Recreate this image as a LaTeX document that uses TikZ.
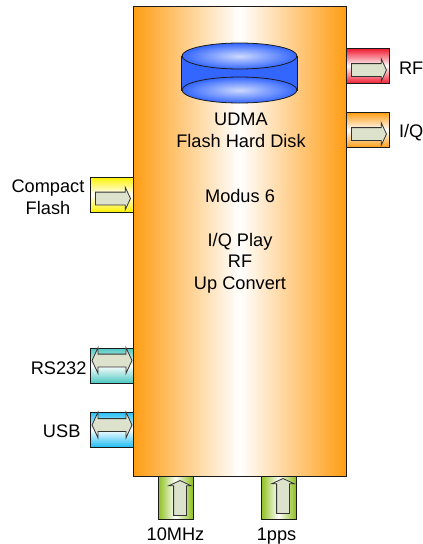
\documentclass[tikz,border=0pt]{standalone}
\usepackage{fontspec}
\setmainfont{Liberation Sans}
\usetikzlibrary{positioning, shapes.geometric, shapes.arrows}
\definecolor{darkline}{HTML}{1A1A1A}
\definecolor{mainorange}{HTML}{FF9D14}
\definecolor{portred}{HTML}{F01A30}
\definecolor{portorange}{HTML}{FF9D14}
\definecolor{portyellow}{HTML}{FFF200}
\definecolor{portteal}{HTML}{4CC7C0}
\definecolor{portblue}{HTML}{1FBDF5}
\definecolor{portgreen}{HTML}{8CBF1A}
\definecolor{diskblue}{HTML}{3366FF}
\definecolor{arrowfill}{HTML}{DDE2CC}
\definecolor{arrowline}{HTML}{333333}

\begin{document}
\begin{tikzpicture}[
    x=1pt, y=-1pt,
    textfont/.style={
        font=\fontsize{18.2}{21.7}\selectfont, text=black, align=center, inner sep=0pt
    },
    mainbox/.style={
        draw=darkline, thick, minimum width=213pt, minimum height=470pt,
        left color=mainorange, right color=mainorange, middle color=white
    },
    portbox/.style={
        draw=darkline, thick, minimum width=43pt, minimum height=35pt
    },
    portboxv/.style={
        draw=darkline, thick, minimum width=35pt, minimum height=43pt,
        left color=portgreen, right color=portgreen, middle color=white
    },
    singlearrow/.style={
        single arrow, draw=arrowline, thick, fill=arrowfill,
        inner xsep=0pt, inner ysep=6pt,
        minimum height=35pt, minimum width=22pt,
        single arrow head extend=5pt, single arrow tip angle=130
    },
    uparrow/.style={
        singlearrow, shape border rotate=90,
        inner xsep=6pt, inner ysep=0pt
    },
    doublearrow/.style={
        double arrow, draw=arrowline, thick, fill=arrowfill,
        inner xsep=0pt, inner ysep=6pt,
        minimum height=40pt, minimum width=25pt,
        double arrow head extend=6.5pt, double arrow tip angle=130
    },
    diskend/.style={
        ellipse, draw=darkline, thick, minimum width=115pt, minimum height=26pt,
        inner color=white!75!diskblue, outer color=diskblue
    },
]
\useasboundingbox (0,0) rectangle (423,544);

% === Main box ===
\node[mainbox] (main) at (239.5,241) {};

% === Disk ===
\node[minimum width=115pt, minimum height=26pt, ellipse, inner sep=0pt] (disklow) at (239.5,90) {};
\node[minimum width=115pt, minimum height=26pt, ellipse, inner sep=0pt] (diskup) at (239.5,56) {};
\draw[thick, draw=darkline, fill=diskblue]
    (diskup.west) -- (disklow.west) -- (disklow.east) -- (diskup.east) -- cycle;
\node[diskend] at (disklow) {};
\node[diskend] at (diskup) {};

% === Texts in the main box ===
\node[textfont] (disklabel) at (241,130.5) {UDMA\\Flash Hard Disk};
\node[textfont] (modelabel) at (240,241.5) {Modus 6\\[21.7pt]I/Q Play\\RF\\Up Convert};

% === Output ports ===
\node[portbox, top color=portred, bottom color=portred, middle color=white] (rfport) at (368,66) {};
\node[singlearrow] (rfarrow) at (367.5,70) {};
\node[textfont, right=9pt of rfport, yshift=-2pt] {RF};

\node[portbox, top color=portorange, bottom color=portorange, middle color=white] (iqport) at (368,130) {};
\node[singlearrow] (iqarrow) at (367.5,134) {};
\node[textfont, right=9pt of iqport, yshift=-3pt] {I/Q};

% === Input ports ===
\node[portbox, top color=portyellow, bottom color=portyellow, middle color=white] (cfport) at (111.5,194.5) {};
\node[singlearrow] (cfarrow) at (111.5,198.5) {};
\node[textfont, left=5pt of cfport, yshift=-3pt] {Compact\\Flash};

\node[portbox, top color=portteal, bottom color=portteal, middle color=white] (rsport) at (111.5,365.5) {};
\node[doublearrow] (rsarrow) at (112,360.5) {};
\node[textfont, left=3pt of rsport, yshift=-3pt] {RS232};

\node[portbox, top color=portblue, bottom color=portblue, middle color=white] (usbport) at (111.5,429.5) {};
\node[doublearrow] (usbarrow) at (112,425) {};
\node[textfont, left=9pt of usbport, yshift=-2pt] {USB};

% === Bottom ports ===
\node[portboxv] (clkport) at (175.5,497.5) {};
\node[uparrow] (clkarrow) at (180,499.5) {};
\node[textfont, below=8pt of clkport] {10MHz};

\node[portboxv] (ppsport) at (278.5,497.5) {};
\node[uparrow] (ppsarrow) at (283,497.5) {};
\node[textfont, below=8pt of ppsport, xshift=-2pt] {1pps};

\end{tikzpicture}
\end{document}
